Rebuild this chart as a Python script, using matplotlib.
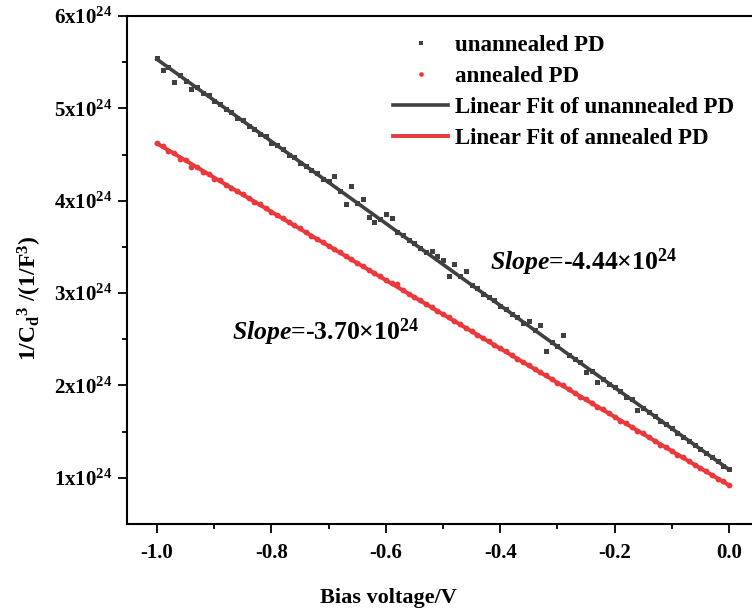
import numpy as np
import matplotlib
matplotlib.use("Agg")
import matplotlib.pyplot as plt
from matplotlib.ticker import FixedLocator

plt.rcParams['font.family'] = ['Liberation Serif', 'DejaVu Serif']
plt.rcParams['font.weight'] = 'bold'
plt.rcParams['mathtext.fontset'] = 'custom'
plt.rcParams['mathtext.rm'] = 'Liberation Serif:bold'
plt.rcParams['mathtext.bf'] = 'Liberation Serif:bold'
plt.rcParams['mathtext.it'] = 'Liberation Serif:italic:bold'

# bias voltage grid (V), 0.01 V steps from -1.0 to 0.0
voltage = np.linspace(-1.0, 0.0, 101)

# 1/Cd^3 in units of 1e24 (1/F^3)
unannealed = [5.54, 5.42, 5.45, 5.29, 5.36, 5.30, 5.21, 5.23, 5.17, 5.14,
              5.08, 5.05, 4.99, 4.96, 4.90, 4.87, 4.81, 4.78, 4.72, 4.70,
              4.63, 4.60, 4.56, 4.50, 4.47, 4.41, 4.38, 4.33, 4.30, 4.23,
              4.21, 4.27, 4.10, 3.96, 4.16, 3.98, 4.02, 3.82, 3.77, 3.80,
              3.86, 3.81, 3.66, 3.63, 3.57, 3.54, 3.49, 3.44, 3.45, 3.40,
              3.36, 3.19, 3.32, 3.18, 3.24, 3.09, 3.05, 2.99, 2.96, 2.92,
              2.86, 2.83, 2.77, 2.74, 2.68, 2.70, 2.60, 2.65, 2.37, 2.47,
              2.43, 2.55, 2.33, 2.29, 2.25, 2.15, 2.16, 2.04, 2.07, 2.02,
              1.98, 1.94, 1.88, 1.85, 1.73, 1.76, 1.71, 1.67, 1.62, 1.58,
              1.54, 1.49, 1.44, 1.40, 1.36, 1.31, 1.27, 1.22, 1.18, 1.13,
              1.09]
annealed = [4.63, 4.59, 4.54, 4.52, 4.45, 4.44, 4.37, 4.36, 4.31, 4.29,
            4.24, 4.22, 4.17, 4.14, 4.10, 4.07, 4.03, 3.99, 3.96, 3.92,
            3.88, 3.85, 3.81, 3.77, 3.74, 3.70, 3.66, 3.62, 3.59, 3.55,
            3.51, 3.48, 3.44, 3.40, 3.37, 3.33, 3.29, 3.25, 3.22, 3.18,
            3.14, 3.11, 3.10, 3.03, 2.99, 2.96, 2.92, 2.88, 2.85, 2.81,
            2.77, 2.74, 2.70, 2.66, 2.62, 2.59, 2.55, 2.51, 2.48, 2.44,
            2.40, 2.37, 2.33, 2.29, 2.25, 2.22, 2.18, 2.14, 2.11, 2.07,
            2.03, 2.00, 1.96, 1.92, 1.88, 1.85, 1.81, 1.77, 1.74, 1.70,
            1.66, 1.62, 1.59, 1.55, 1.51, 1.48, 1.44, 1.40, 1.36, 1.33,
            1.29, 1.25, 1.22, 1.18, 1.14, 1.11, 1.07, 1.03, 0.99, 0.96,
            0.92]

# linear fits (units of 1e24)
fit_slope = [-4.44, -3.70]
fit_intercept = [1.09, 0.92]
fit_range = [-1.0, 0.0]

labels = ['unannealed PD', 'annealed PD',
          'Linear Fit of unannealed PD', 'Linear Fit of annealed PD']
x_ticks = [-1.0, -0.8, -0.6, -0.4, -0.2, 0.0]
y_ticks = [1, 2, 3, 4, 5, 6]

gray = '#404040'
red = '#e8393c'

fig = plt.figure(figsize=(7.52, 6.09), dpi=100)
ax = fig.add_axes([0.1693, 0.1396, 0.8396, 0.8342])

ax.plot(voltage, unannealed, ls='none', marker='s', ms=3.6, color=gray,
        mew=0, label=labels[0])
ax.plot(voltage, annealed, ls='none', marker='o', ms=4.2, color=red,
        mew=0, label=labels[1])

xf = np.array(fit_range)
ax.plot(xf, fit_intercept[0] + fit_slope[0] * xf, color=gray, lw=2.6,
        label=labels[2])
ax.plot(xf, fit_intercept[1] + fit_slope[1] * xf, color=red, lw=2.8,
        label=labels[3])

ax.set_xlim(-1.052, 0.052)
ax.set_ylim(0.5, 6.0)

ax.xaxis.set_major_locator(FixedLocator(x_ticks))
ax.xaxis.set_minor_locator(FixedLocator([-0.9, -0.7, -0.5, -0.3, -0.1]))
ax.set_xticklabels(['%.1f' % t for t in x_ticks])
ax.yaxis.set_major_locator(FixedLocator(y_ticks))
ax.yaxis.set_minor_locator(FixedLocator([1.5, 2.5, 3.5, 4.5, 5.5]))
ax.set_yticklabels(['%dx10$^{24}$' % t for t in y_ticks])

ax.spines['right'].set_visible(False)
for s in ['left', 'bottom', 'top']:
    ax.spines[s].set_linewidth(1.5)
ax.tick_params(which='major', direction='out', length=6.5, width=1.3,
               labelsize=15)
ax.tick_params(which='minor', direction='out', length=3.5, width=1.3)
ax.tick_params(axis='y', pad=4)
ax.tick_params(axis='x', pad=7)

fig.text(388 / 752, 1 - 598 / 609, 'Bias voltage/V', fontsize=16,
         ha='center', va='center')
fig.text(30 / 752, 1 - 298 / 609,
         r'1/C$_\mathregular{d}$$^\mathregular{3}$ /(1/F$^\mathregular{3}$)',
         fontsize=17, rotation=90, ha='center', va='center')

ax.text(0.574, 0.50, r'$\mathit{Slope}$=-4.44×10$^{24}$',
        transform=ax.transAxes, fontsize=18.5, va='baseline')
ax.text(0.166, 0.362, r'$\mathit{Slope}$=-3.70×10$^{24}$',
        transform=ax.transAxes, fontsize=18.5, va='baseline')

ax.legend(loc='upper left', bbox_to_anchor=(393 / 752, 1 - 35 / 609),
          bbox_transform=fig.transFigure, frameon=False, fontsize=16.5,
          borderpad=0, borderaxespad=0, handlelength=2.4,
          handletextpad=0.3, labelspacing=0.43, markerscale=0.8)

fig.savefig('out.png', dpi=100)
